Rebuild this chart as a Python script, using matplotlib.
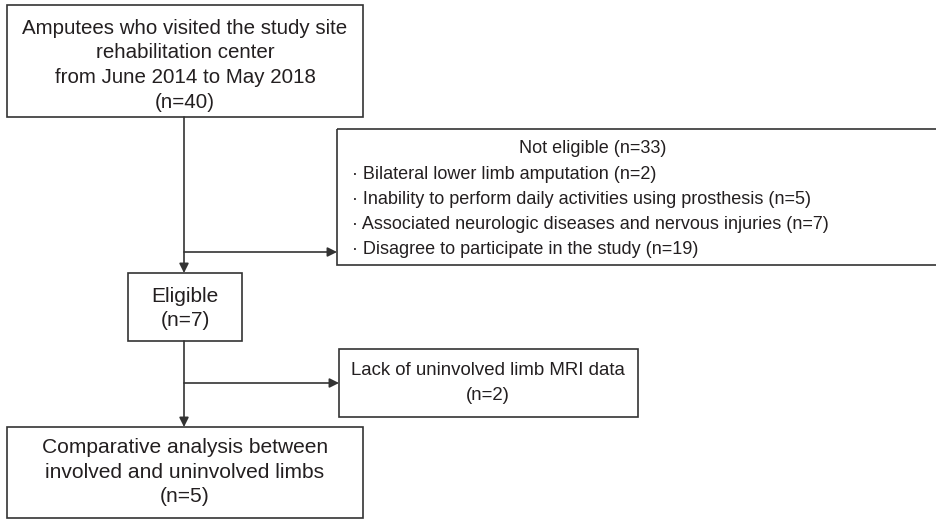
import matplotlib
matplotlib.use("Agg")
import matplotlib.pyplot as plt
from matplotlib.patches import Rectangle

plt.rcParams['font.family'] = ['Liberation Sans', 'DejaVu Sans']

# box texts
top_lines = ["Amputees who visited the study site", "rehabilitation center",
             "from June 2014 to May 2018", "(n=40)"]
excl1_title = "Not eligible (n=33)"
excl1_items = ["Bilateral lower limb amputation (n=2)",
               "Inability to perform daily activities using prosthesis (n=5)",
               "Associated neurologic diseases and nervous injuries (n=7)",
               "Disagree to participate in the study (n=19)"]
elig_lines = ["Eligible", "(n=7)"]
excl2_lines = ["Lack of uninvolved limb MRI data", "(n=2)"]
final_lines = ["Comparative analysis between", "involved and uninvolved limbs", "(n=5)"]

# boxes in pixel units: x0, y0, x1, y1
box_top = (7, 5, 363, 117)
box_excl1 = (337, 129, 940, 265)
box_elig = (128, 273, 242, 341)
box_excl2 = (339, 349, 638, 417)
box_final = (7, 427, 363, 518)

col = '#333333'
tcol = '#231f20'

fig = plt.figure(figsize=(9.36, 5.19), dpi=100)
ax = fig.add_axes([0, 0, 1, 1])
ax.set_xlim(0, 936)
ax.set_ylim(519, 0)
ax.axis('off')

def draw_box(b):
    ax.add_patch(Rectangle((b[0], b[1]), b[2] - b[0], b[3] - b[1],
                           fill=False, edgecolor=col, lw=1.2))

def centered(lines, x, y0, step, fs):
    for i, s in enumerate(lines):
        ax.text(x, y0 + i * step, s, ha='center', va='baseline',
                fontsize=fs, color=tcol)

def arrow(x0, y0, x1, y1):
    ax.annotate('', xy=(x1, y1), xytext=(x0, y0),
                arrowprops=dict(arrowstyle='-|>', color=col, lw=1.2,
                                mutation_scale=14, shrinkA=0, shrinkB=0))

for b in [box_top, box_excl1, box_elig, box_excl2, box_final]:
    draw_box(b)

centered(top_lines, 185, 34, 24.5, 14.8)
ax.text(593, 153, excl1_title, ha='center', va='baseline', fontsize=13, color=tcol)
for i, s in enumerate(excl1_items):
    ax.text(352, 179 + i * 25, "\u00b7 " + s, ha='left', va='baseline',
            fontsize=13, color=tcol)
centered(elig_lines, 185, 302, 23.5, 15)
centered(excl2_lines, 488, 375, 25, 13.4)
centered(final_lines, 185, 453, 24.5, 15.1)

# connectors
cx = 184
arrow(cx, 117, cx, 273)
arrow(cx, 252, 337, 252)
arrow(cx, 341, cx, 427)
arrow(cx, 383, 339, 383)

fig.savefig("out.png", dpi=100)
